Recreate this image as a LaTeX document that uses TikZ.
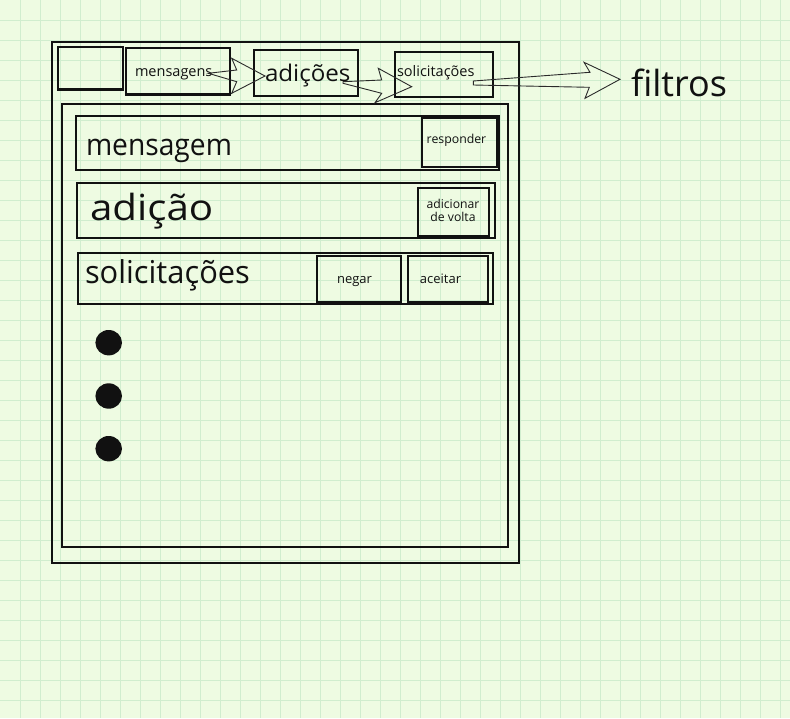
\documentclass[tikz,border=0pt]{standalone}
\usepackage{fontspec}
\setmainfont{Open Sans}
\usepackage{graphicx}
\definecolor{bg}{HTML}{EEFBE2}
\definecolor{gridc}{HTML}{D0EDCE}
\definecolor{ink}{HTML}{111111}
\definecolor{arrowc}{HTML}{2A2A2A}
\newcommand\hsc[2]{\scalebox{#1}[1]{#2}}
\newcommand\fs[1]{\fontsize{#1}{#1}\selectfont}
\tikzset{
  box/.style={draw=ink, line width=2.3pt, inner sep=0pt, outer sep=0pt, rectangle},
  lbl/.style={text=ink, inner sep=0pt, outer sep=0pt},
  blockarrow/.style={draw=arrowc, line width=0.9pt, line join=miter},
  dot/.style={fill=ink, draw=none, ellipse, minimum width=26.6pt, minimum height=25.4pt, inner sep=0pt}
}
\usetikzlibrary{shapes.geometric}
\begin{document}
\begin{tikzpicture}[x=1pt,y=-1pt]
\useasboundingbox (0,0) rectangle (790,718);
\fill[bg] (0,0) rectangle (790,718);
\foreach \i in {20,40,...,780} \draw[gridc, line width=1pt] (\i,0) -- (\i,718);
\foreach \j in {20,40,...,700} \draw[gridc, line width=1pt] (0,\j) -- (790,\j);

% frames
\node[box, minimum width=467pt, minimum height=521pt] (outer) at (285.5,302.5) {};
\node[box, minimum width=446pt, minimum height=443pt] (inner) at (285,325.5) {};
% top tab boxes
\node[box, minimum width=65pt, minimum height=42.5pt] (empty) at (90.5,68.25) {};
\node[box, minimum width=104pt, minimum height=46.5pt] (msgs) at (178,71.25) {};
\node[box, minimum width=104pt, minimum height=46pt] (adds) at (306,73) {};
\node[box, minimum width=98pt, minimum height=45pt] (sols) at (444,74.5) {};
% rows
\node[box, minimum width=423pt, minimum height=54pt] (row1) at (287.5,143) {};
\node[box, minimum width=75pt, minimum height=49pt] (resp) at (459.5,142.5) {};
\node[box, minimum width=418pt, minimum height=55pt] (row2) at (286,210.5) {};
\node[box, minimum width=71pt, minimum height=48pt] (addback) at (453.5,212) {};
\node[box, minimum width=415pt, minimum height=51pt] (row3) at (285.5,278.5) {};
\node[box, minimum width=84pt, minimum height=46pt] (deny) at (359,279) {};
\node[box, minimum width=80pt, minimum height=46pt] (accept) at (448,279) {};

% labels
\node[lbl, anchor=base west] (tmsgs) at (135,76.7) {\fs{14.5}mensagens};
\node[lbl, anchor=base west] (tadds) at (265,81.7) {\hsc{1.05}{\fs{23}adições}};
\node[lbl, anchor=base west] (tsols) at (397,76) {\fs{14.5}solicitações};
\node[lbl, anchor=base west] (filtros) at (631,96) {\fs{36}filtros};
\node[lbl, anchor=base west] (trow1) at (86,155) {\hsc{0.94}{\fs{30}mensagem}};
\node[lbl, anchor=base west] (trow2) at (90,220.5) {\hsc{1.12}{\fs{36}adição}};
\node[lbl, anchor=base west] (trow3) at (85,283.3) {\hsc{0.98}{\fs{31.5}solicitações}};
\node[lbl, anchor=base] (tresp) at (456.5,143.3) {\fs{12.3}responder};
\node[lbl, anchor=base] (tadd1) at (453,208.3) {\fs{12.2}adicionar};
\node[lbl, anchor=base] (tadd2) at (453,221.7) {\fs{12.2}de volta};
\node[lbl, anchor=base] (tdeny) at (354.5,283.3) {\fs{13}negar};
\node[lbl, anchor=base] (taccept) at (440.5,283.3) {\fs{13}aceitar};

% bullets
\node[dot] (b1) at (108.7,342.7) {};
\node[dot] (b2) at (108.7,396) {};
\node[dot] (b3) at (108.7,448.7) {};

% block arrows
\coordinate (a1t) at (208.3,73.3);
\coordinate (a1h) at (265,76);
\draw[blockarrow] (a1t) -- (236.7,70) -- (231.7,58.3) -- (a1h) -- (231.7,93.3) -- (236.7,81.7) -- cycle;
\coordinate (a2t) at (343,81.7);
\coordinate (a2h) at (411.7,86.7);
\draw[blockarrow] (a2t) -- (381.7,80) -- (378.3,68.3) -- (a2h) -- (375,102.7) -- (381.7,93.3) -- (343,83.3) -- cycle;
\coordinate (a3t) at (473.3,81);
\coordinate (a3h) at (620,79.3);
\draw[blockarrow] (a3t) -- (590,72.3) -- (584,62.3) -- (a3h) -- (585,98.3) -- (589.3,87.3) -- (473.3,85) -- cycle;
\end{tikzpicture}
\end{document}
